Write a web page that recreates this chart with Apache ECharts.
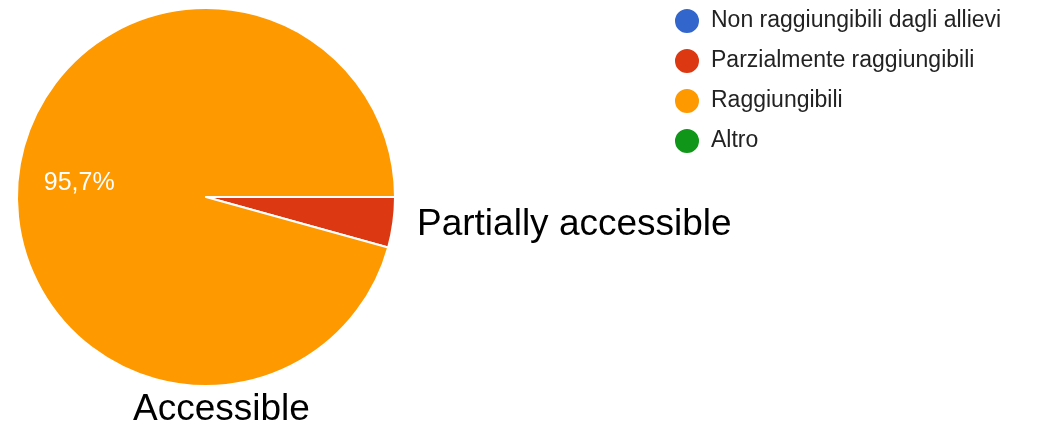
<!DOCTYPE html>
<html>
<head>
<meta charset="utf-8">
<script src="https://cdn.jsdelivr.net/npm/echarts@6/dist/echarts.min.js"></script>
<style>html,body{margin:0;padding:0;background:#fff}#c{width:1046px;height:424px}</style>
</head>
<body>
<div id="c"></div>
<script>
const categories = ["Non raggiungibili dagli allievi", "Parzialmente raggiungibili", "Raggiungibili", "Altro"];
const values = [0, 4.3, 95.7, 0];
const colors = ["#3366cc", "#dc3912", "#ff9900", "#109618"];
const annotations = [
  {text: "Partially accessible", x: 417, y: 222},
  {text: "Accessible", x: 133, y: 407}
];

const chart = echarts.init(document.getElementById('c'), null, {renderer: 'canvas'});
const data = categories.map((n, i) => ({name: n, value: values[i], itemStyle: {color: colors[i]}}));
const labelData = categories.map((n, i) => ({
  name: n, value: values[i],
  itemStyle: {color: 'transparent', borderWidth: 0},
  label: {show: n === "Raggiungibili"}
}));
chart.setOption({
  animation: false,
  color: colors,
  legend: {
    orient: 'vertical',
    left: 668, top: 2,
    icon: 'circle',
    itemWidth: 26, itemHeight: 26, itemGap: 12,
    textStyle: {fontFamily: 'Liberation Sans, Arial, sans-serif', fontSize: 23, color: '#222', lineHeight: 26, padding: [0, 0, 0, 6]},
    data: categories
  },
  series: [
    {
      type: 'pie', center: [206, 197], radius: [0, 189],
      startAngle: 0, clockwise: true,
      avoidLabelOverlap: false,
      itemStyle: {borderColor: '#fff', borderWidth: 2},
      label: {show: false}, labelLine: {show: false},
      emphasis: {disabled: true},
      data: data
    },
    {
      type: 'pie', center: [206, 201], radius: [0, 256],
      startAngle: 0, clockwise: true, silent: true,
      avoidLabelOverlap: false,
      legendHoverLink: false,
      label: {
        position: 'inner', color: '#fff', fontSize: 25,
        fontFamily: 'Liberation Sans, Arial, sans-serif',
        padding: [0, 0, 0, 6],
        formatter: p => p.value.toFixed(1).replace('.', ',') + '%'
      },
      labelLine: {show: false},
      emphasis: {disabled: true},
      data: labelData
    }
  ],
  graphic: annotations.map(a => ({
    type: 'text', left: a.x, top: a.y - 16,
    style: {text: a.text, fontSize: 37, fontFamily: 'Liberation Sans, Arial, sans-serif', fill: '#000'}
  }))
});
</script>
</body>
</html>
